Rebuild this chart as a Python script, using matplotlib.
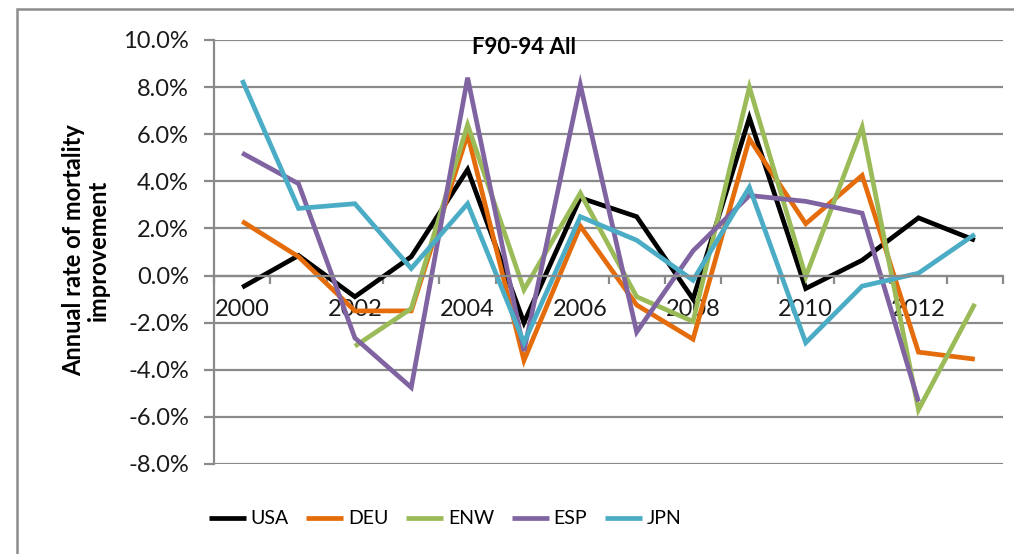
import numpy as np
import matplotlib
matplotlib.use("Agg")
import matplotlib.pyplot as plt
from matplotlib.patches import Rectangle

plt.rcParams['font.family'] = ['Lato', 'DejaVu Sans']

years = list(range(2000, 2014))
usa = [-0.5, 0.85, -0.9, 0.8, 4.5, -2.0, 3.3, 2.5, -1.0, 6.7, -0.55, 0.65, 2.45, 1.5]
deu = [2.3, 0.8, -1.5, -1.5, 6.0, -3.6, 2.1, -1.25, -2.7, 5.8, 2.2, 4.25, -3.25, -3.55]
enw = [None, None, -3.0, -1.4, 6.4, -0.6, 3.5, -0.9, -1.95, 8.0, -0.05, 6.3, -5.7, -1.2]
esp = [5.2, 3.9, -2.65, -4.75, 8.4, -3.2, 8.1, -2.4, 1.05, 3.4, 3.15, 2.65, -5.35, None]
jpn = [8.3, 2.85, 3.05, 0.3, 3.05, -2.85, 2.5, 1.5, -0.2, 3.75, -2.85, -0.45, 0.1, 1.75]

names = ["USA", "DEU", "ENW", "ESP", "JPN"]
series = [usa, deu, enw, esp, jpn]
colors = ["#000000", "#E46C0A", "#9BBB59", "#8064A2", "#4BACC6"]

W, H = 1014, 554
fig = plt.figure(figsize=(W / 100, H / 100), dpi=100)
fig.patch.set_facecolor("white")

# chart area frame (runs off the right/bottom edge like the original crop)
fig.patches.append(Rectangle((17 / W, -0.1), 1.2, 1.1 - 9 / H, transform=fig.transFigure,
                             fill=False, edgecolor="#8c8c8c", linewidth=1.8))

ax = fig.add_axes([214 / W, 1 - 464 / H, (1003 - 214) / W, (464 - 40) / H])
grid_c = "#8a8a8a"

x = np.arange(len(years))
for vals, name, c in zip(series, names, colors):
    y = np.array([np.nan if v is None else v for v in vals], dtype=float)
    ax.plot(x, y, color=c, linewidth=3.4, label=name, solid_capstyle="butt",
            solid_joinstyle="miter")

ax.set_xlim(-0.5, len(years) - 0.5)
ax.set_ylim(-8, 10)
ax.set_yticks(np.arange(-8, 11, 2))
ax.set_yticklabels([f"{v:.1f}%" for v in np.arange(-8, 11, 2)], fontsize=17, color="#1a1a1a")
ax.yaxis.grid(True, color=grid_c, linewidth=1.6)
ax.set_axisbelow(True)
ax.tick_params(axis="y", direction="out", length=7, width=1.6, color=grid_c, pad=11)

# category axis crossing at zero, ticks between categories, labels every other year
ax.spines["bottom"].set_position(("data", 0))
ax.set_xticks(np.arange(-0.5, len(years), 1.0))
ax.set_xticklabels([])
ax.set_xticks(x[::2], minor=True)
ax.set_xticklabels([str(yr) for yr in years[::2]], minor=True, fontsize=17, color="#1a1a1a")
ax.tick_params(axis="x", which="major", direction="out", length=6, width=1.6, color=grid_c)
ax.tick_params(axis="x", which="minor", length=0, pad=17)

for s in ["top", "right"]:
    ax.spines[s].set_visible(False)
for s in ["left", "bottom"]:
    ax.spines[s].set_color(grid_c)
    ax.spines[s].set_linewidth(1.6)

fig.text(524 / W, 1 - 47 / H, "F90-94 All", ha="center", va="center",
         fontsize=16, fontweight="bold")
fig.text(86 / W, 1 - 250 / H, "Annual rate of mortality\nimprovement", rotation=90,
         ha="center", va="center", fontsize=17, fontweight="bold", linespacing=1.1)

fig.legend(loc="center", bbox_to_anchor=(445 / W, 1 - 519 / H), ncol=5, frameon=False,
           fontsize=14, handlelength=1.9, handletextpad=0.25, columnspacing=0.9)

fig.savefig("out.png", dpi=100, facecolor="white")
